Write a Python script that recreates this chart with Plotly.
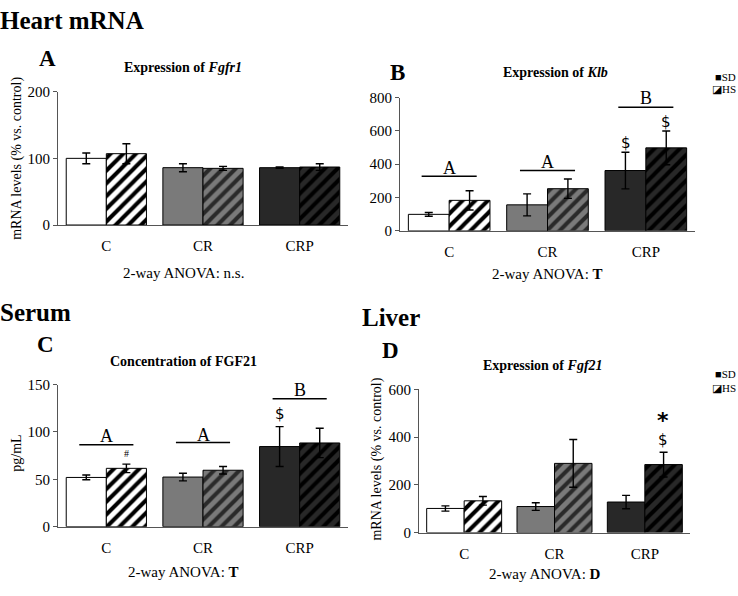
import plotly.graph_objects as go

W, H = 738, 596

categories = ["C", "CR", "CRP"]

# Panel A - Heart Fgfr1
a_sd = [100, 86, 86]
a_sd_err = [8, 6, 1]
a_hs = [107, 85, 87]
a_hs_err = [15, 3, 5]

# Panel B - Heart Klb
b_sd = [99, 156, 362]
b_sd_err = [11, 66, 110]
b_hs = [183, 253, 498]
b_hs_err = [58, 58, 101]

# Panel C - Serum FGF21
c_sd = [52, 52.4, 84.6]
c_sd_err = [2.5, 4, 21]
c_hs = [61.6, 59.6, 88.4]
c_hs_err = [4.5, 4, 15.5]

# Panel D - Liver Fgf21
d_sd = [101, 109, 128]
d_sd_err = [11, 16, 28]
d_hs = [133, 290, 285]
d_hs_err = [18, 100, 52]

SERIF = "Liberation Serif"
fill_colors = ["#ffffff", "#7a7a7a", "#282828"]
stripe_colors = ["#000000", "#2a2a2a", "#000000"]
AX = "#555555"


def px(x):
    return x / W


def py(y):
    return 1 - y / H


panels = [
    dict(sd=a_sd, sde=a_sd_err, hs=a_hs, hse=a_hs_err, x0=58, x1=348, y0=86, y1=223, yr=[0, 200], dt=100),
    dict(sd=b_sd, sde=b_sd_err, hs=b_hs, hse=b_hs_err, x0=400, x1=695, y0=92, y1=229, yr=[0, 800], dt=200),
    dict(sd=c_sd, sde=c_sd_err, hs=c_hs, hse=c_hs_err, x0=58, x1=348, y0=387, y1=533, yr=[0, 150], dt=50),
    dict(sd=d_sd, sde=d_sd_err, hs=d_hs, hse=d_hs_err, x0=419, x1=690, y0=392, y1=539, yr=[0, 600], dt=200),
]

fig = go.Figure()
layout = {}
xs = [0, 1, 2]
for i, p in enumerate(panels):
    n = "" if i == 0 else str(i + 1)
    xa, ya = "x" + n, "y" + n
    err = dict(type="data", color="black", thickness=1.4, width=4)
    fig.add_trace(go.Bar(
        x=xs, y=p["sd"], name="SD", xaxis=xa, yaxis=ya, showlegend=False,
        offsetgroup="sd",
        error_y=dict(err, array=p["sde"]),
        marker=dict(color=fill_colors, line=dict(color="black", width=1)),
    ))
    for k in xs:
        fig.add_trace(go.Bar(
            x=[k], y=[p["hs"][k]], name="HS", xaxis=xa, yaxis=ya, showlegend=False,
            offsetgroup="hs",
            error_y=dict(err, array=[p["hse"][k]]),
            marker=dict(color=fill_colors[k], line=dict(color="black", width=1),
                        pattern=dict(shape="/", size=9, solidity=0.45, fillmode="replace",
                                     bgcolor=fill_colors[k], fgcolor=stripe_colors[k])),
        ))
    layout["xaxis" + n] = dict(
        domain=[px(p["x0"]), px(p["x1"])], anchor=ya, range=[-0.5, 2.5],
        tickvals=xs, ticktext=categories, showline=True, linecolor=AX, linewidth=1,
        ticks="", showgrid=False, zeroline=False, ticklabelstandoff=7,
        tickfont=dict(family=SERIF, size=15, color="black"),
    )
    layout["yaxis" + n] = dict(
        domain=[py(p["y1"]), py(p["y0"])], anchor=xa, range=p["yr"], dtick=p["dt"],
        ticks="outside", ticklen=4, tickcolor=AX, showline=True, linecolor=AX, linewidth=1,
        showgrid=False, zeroline=False,
        tickfont=dict(family=SERIF, size=15, color="black"),
    )

fig.update_layout(**layout)

ann = []


def text(x, y, t, size=13, bold=False, family=SERIF, angle=0, xanchor="center", xref="paper", yref="paper"):
    if bold:
        t = "<b>" + t + "</b>"
    ann.append(dict(x=x, y=y, xref=xref, yref=yref, text=t, showarrow=False,
                    font=dict(family=family, size=size, color="black"),
                    textangle=angle, xanchor=xanchor, yanchor="middle", borderpad=0))


# section headings
text(px(-1), py(13), "Heart mRNA", size=25, bold=True, xanchor="left")
text(px(-1), py(313), "Serum", size=25, bold=True, xanchor="left")
text(px(361), py(318), "Liver", size=25, bold=True, xanchor="left")

# panel letters
text(px(47), py(52), "A", size=23, bold=True)
text(px(397), py(66), "B", size=23, bold=True)
text(px(45), py(346), "C", size=23, bold=True)
text(px(390), py(352), "D", size=23, bold=True)

# panel titles
text(px(183), py(61), "Expression of <i>Fgfr1</i>", size=14, bold=True)
text(px(555), py(66), "Expression of <i>Klb</i>", size=14, bold=True)
text(px(183), py(363), "Concentration of FGF21", size=14, bold=True)
text(px(543), py(367), "Expression of <i>Fgf21</i>", size=14, bold=True)

# y-axis titles
text(px(17), py(155), "mRNA levels (% vs. control)", size=14, angle=-90)
text(px(17), py(458), "pg/mL", size=14, angle=-90)
text(px(377), py(463), "mRNA levels (% vs. control)", size=14, angle=-90)

# ANOVA captions
text(px(183), py(272), "2-way ANOVA: n.s.", size=15)
text(px(547), py(273), "2-way ANOVA: <b>T</b>", size=15)
text(px(183), py(580), "2-way ANOVA: <b>T</b>", size=15)
text(px(545), py(582), "2-way ANOVA: <b>D</b>", size=15)

# legends
for ly1, ly2 in [(71, 83), (376, 390)]:
    text(px(737), py(ly1), "■SD", size=11, xanchor="right")
    text(px(737), py(ly2), "◪HS", size=11, xanchor="right")

shapes = []
half = 0.28
sd_off = -0.205
hs_off = 0.205


def bracket(n, xc, yv, label, ty):
    shapes.append(dict(type="line", xref="x" + n, yref="y" + n, x0=xc - half, x1=xc + half,
                       y0=yv, y1=yv, line=dict(color="black", width=1.5)))
    text(xc, ty, label, size=18, xref="x" + n, yref="y" + n)


# Panel B annotations
bracket("2", 0, 327, "A", 380)
bracket("2", 1, 362, "A", 415)
bracket("2", 2, 742, "B", 795)
text(2 + sd_off, 530, "$", size=15, family="DejaVu Sans", xref="x2", yref="y2")
text(2 + hs_off, 656, "$", size=15, family="DejaVu Sans", xref="x2", yref="y2")

# Panel C annotations
bracket("3", 0, 86.6, "A", 96)
bracket("3", 1, 89, "A", 97)
bracket("3", 2, 135, "B", 144.5)
text(2 + sd_off, 119, "$", size=15, family="DejaVu Sans", xref="x3", yref="y3")
text(0 + hs_off, 77, "#", size=10, xref="x3", yref="y3")

# Panel D annotations
text(2 + hs_off, 470, "*", size=22, bold=True, family="DejaVu Sans", xref="x4", yref="y4")
text(2 + hs_off, 388, "$", size=15, family="DejaVu Sans", xref="x4", yref="y4")

fig.update_layout(
    width=W, height=H, margin=dict(l=0, r=0, t=0, b=0),
    paper_bgcolor="white", plot_bgcolor="white",
    barmode="group", bargap=0.17, bargroupgap=0,
    showlegend=False, annotations=ann, shapes=shapes,
)

fig.write_html("out.html", config={"displayModeBar": False},
               post_script="document.body.style.margin='0';document.body.style.overflow='hidden';")
